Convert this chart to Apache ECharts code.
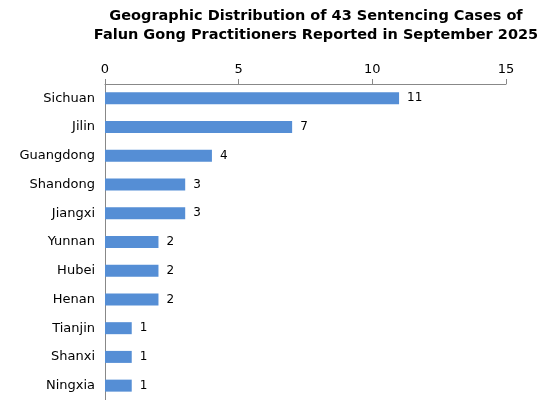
<!DOCTYPE html><html><head><meta charset="utf-8"><script src="https://cdn.jsdelivr.net/npm/echarts@6/dist/echarts.min.js"></script></head><body style="margin:0"><div id="c" style="width:560px;height:400px"></div><script>
const categories=["Sichuan","Jilin","Guangdong","Shandong","Jiangxi","Yunnan","Hubei","Henan","Tianjin","Shanxi","Ningxia"];
const values=[11,7,4,3,3,2,2,2,1,1,1];
const ch=echarts.init(document.getElementById('c'));
ch.setOption({animation:false,
title:{text:"Geographic Distribution of 43 Sentencing Cases of\nFalun Gong Practitioners Reported in September 2025",left:311,top:2,textAlign:'center',textStyle:{fontFamily:'DejaVu Sans',fontSize:14.5,fontWeight:'bold',color:'#000',lineHeight:19}},
grid:{left:105,right:54,top:84,bottom:-6,containLabel:false},
xAxis:{type:'value',position:'top',min:0,max:15,interval:5,splitLine:{show:false},axisLine:{show:true,lineStyle:{color:'#888'}},axisTick:{show:true,inside:false,length:5,lineStyle:{color:'#888'}},axisLabel:{fontFamily:'DejaVu Sans',fontSize:13,color:'#000',margin:8}},
yAxis:{type:'category',inverse:true,data:categories,axisLine:{lineStyle:{color:'#888'}},axisTick:{show:false},axisLabel:{fontFamily:'DejaVu Sans',fontSize:13,color:'#000',margin:10}},
series:[{type:'bar',data:values,barWidth:12,itemStyle:{color:'#558ed5'},label:{show:true,position:'right',fontFamily:'DejaVu Sans',fontSize:12,color:'#000',distance:8}}]});
</script></body></html>
